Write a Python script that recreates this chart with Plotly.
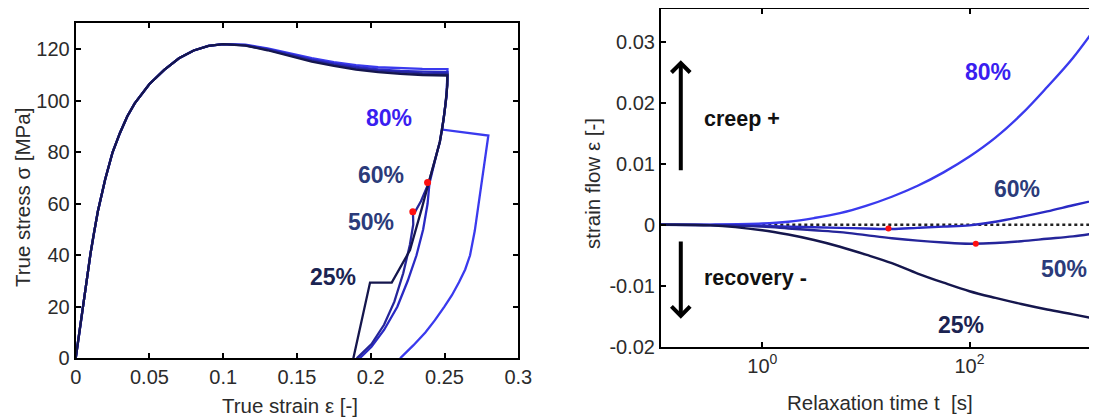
import math
import plotly.graph_objects as go

# ---------------- Left panel data: true stress vs true strain ----------------
LOAD_STRAIN = [0, 0.0025, 0.005, 0.0075, 0.01, 0.0125, 0.015, 0.02, 0.025, 0.03, 0.035, 0.04,
               0.05, 0.06, 0.07, 0.08, 0.09, 0.1, 0.115, 0.13, 0.145, 0.16, 0.175, 0.19,
               0.205, 0.22, 0.235, 0.252]
LOAD_BASE = [0, 10.5, 21, 31, 40.5, 49, 57, 69.5, 80, 87.5, 94, 99,
             106.5, 112, 116.5, 119.5, 121.3, 122]
LOAD_25_TAIL = [121.4, 119.6, 117.3, 115.2, 113.5, 112.1, 111.1, 110.4, 110.0, 109.8]
LOAD_50_TAIL = [121.5, 119.8, 117.6, 115.6, 113.9, 112.6, 111.6, 111.0, 110.6, 110.4]
LOAD_60_TAIL = [121.6, 120.0, 117.9, 116.0, 114.4, 113.1, 112.2, 111.6, 111.3, 111.1]
LOAD_80_TAIL = [121.8, 120.3, 118.3, 116.5, 115.0, 113.8, 113.0, 112.6, 112.4, 112.3]

# shared top of the unloading branch
UNLOAD_TOP_STRAIN = [0.2519, 0.2514, 0.2505, 0.2494, 0.2484]
UNLOAD_TOP_STRESS = [106, 102, 98, 93, 88.8]

# path after the shared top, per hold level
PATH_80_STRAIN = [0.2797, 0.2762, 0.2731, 0.2705, 0.2673, 0.2640, 0.2598, 0.2550, 0.2498, 0.2435, 0.2370, 0.2288, 0.2199]
PATH_80_STRESS = [86.5, 72, 60, 49.5, 40, 34.5, 29.5, 24.5, 20, 14.8, 10, 5, 0]
PATH_60_STRAIN = [0.2468, 0.2445, 0.2418, 0.2395, 0.2398, 0.2385, 0.2355, 0.2310, 0.2250, 0.2180, 0.2090, 0.2005, 0.1925]
PATH_60_STRESS = [84, 79, 73, 68.3, 68, 60, 50, 40, 30, 20, 11, 4.5, 0]
PATH_50_STRAIN = [0.2468, 0.2445, 0.2418, 0.2392, 0.2340, 0.2300, 0.2286, 0.2288, 0.2265, 0.2220, 0.2160, 0.2090, 0.2005, 0.1905]
PATH_50_STRESS = [84, 79, 73, 68, 61, 56.9, 56.9, 52, 44, 33, 22, 13, 5.5, 0]
PATH_25_STRAIN = [0.2468, 0.2445, 0.2418, 0.2392, 0.2345, 0.2305, 0.2266, 0.2142, 0.1995, 0.1882]
PATH_25_STRESS = [84, 79, 73, 68, 58, 50, 42, 29.4, 29.4, 0]

HOLD_DOT_STRAIN = [0.2385, 0.2285]
HOLD_DOT_STRESS = [68.3, 56.9]

# ---------------- Right panel data: strain flow vs relaxation time ----------------
TIME_S = [0.1, 0.316, 1, 1.78, 3.16, 5.62, 10, 17.8, 31.6, 56.2, 100, 178, 316, 562, 1000, 2030]
FLOW_80 = [0, 0.00003, 0.0002, 0.0005, 0.0011, 0.0019, 0.0031, 0.0046, 0.0064, 0.0086,
           0.0112, 0.0143, 0.0181, 0.0226, 0.0274, 0.0345]
FLOW_60 = [0, -0.00003, -0.0002, -0.0003, -0.0004, -0.0005, -0.0006, -0.0007, -0.0005, -0.0003,
           -0.0001, 0.0005, 0.0013, 0.0022, 0.0032, 0.0044]
FLOW_50 = [0, -0.00005, -0.0003, -0.0006, -0.0009, -0.0012, -0.0017, -0.0022, -0.0026, -0.0029,
           -0.0031, -0.0030, -0.0027, -0.0023, -0.0019, -0.0012]
FLOW_25 = [0, -0.0001, -0.0009, -0.0016, -0.0025, -0.0036, -0.0049, -0.0063, -0.0080, -0.0095,
           -0.0109, -0.0120, -0.0130, -0.0139, -0.0147, -0.0157]
ZERO_T = [1, 2030]
ZERO_F = [0, 0]
DOT_T = [16.5, 115]
DOT_F = [-0.0006, -0.0031]

LEVELS = ["25%", "50%", "60%", "80%"]
LEFT_LABEL_POS = {"80%": (0.2124, 93.2), "60%": (0.2067, 71.2), "50%": (0.2002, 53.1), "25%": (0.1747, 31.7)}
RIGHT_LABEL_POS = {"80%": (150, 0.0250), "60%": (286, 0.0059), "50%": (810, -0.0072), "25%": (82, -0.0165)}

LINE_COL = {"25%": "#15164d", "50%": "#25259a", "60%": "#2a2ac4", "80%": "#3a3aee"}
LABEL_COL = {"25%": "#1b2452", "50%": "#2b3b7a", "60%": "#2b3b7a", "80%": "#3a1ef0"}

FONT = "Liberation Sans, Arial, sans-serif"
TICK_COL = "#2b2b2b"

# page layout helpers (the HTML body adds an 8 px margin around the figure)
W, H, BODY = 1097, 417, 8


def px_x(p):
    return (p - BODY) / W


def px_y(p):
    return 1 - (p - BODY) / H


fig = go.Figure()

tails = {"25%": LOAD_25_TAIL, "50%": LOAD_50_TAIL, "60%": LOAD_60_TAIL, "80%": LOAD_80_TAIL}
paths = {"25%": (PATH_25_STRAIN, PATH_25_STRESS), "50%": (PATH_50_STRAIN, PATH_50_STRESS),
         "60%": (PATH_60_STRAIN, PATH_60_STRESS), "80%": (PATH_80_STRAIN, PATH_80_STRESS)}

for lvl in ["80%", "60%", "50%", "25%"]:
    xs = LOAD_STRAIN + UNLOAD_TOP_STRAIN + paths[lvl][0]
    ys = LOAD_BASE + tails[lvl] + UNLOAD_TOP_STRESS + paths[lvl][1]
    fig.add_trace(go.Scatter(x=xs, y=ys, mode="lines", xaxis="x", yaxis="y",
                             line=dict(color=LINE_COL[lvl], width=2.3), showlegend=False,
                             hoverinfo="skip"))

fig.add_trace(go.Scatter(x=HOLD_DOT_STRAIN, y=HOLD_DOT_STRESS, mode="markers", xaxis="x", yaxis="y",
                         marker=dict(color="#ff1010", size=7), showlegend=False))

fig.add_trace(go.Scatter(x=ZERO_T, y=ZERO_F, mode="lines", xaxis="x2", yaxis="y2",
                         line=dict(color="#222222", width=2.5, dash="dot"), showlegend=False))
flows = {"25%": FLOW_25, "50%": FLOW_50, "60%": FLOW_60, "80%": FLOW_80}
for lvl in ["80%", "60%", "50%", "25%"]:
    fig.add_trace(go.Scatter(x=TIME_S, y=flows[lvl], mode="lines", xaxis="x2", yaxis="y2",
                             line=dict(color=LINE_COL[lvl], width=2.4, shape="spline"),
                             showlegend=False))
fig.add_trace(go.Scatter(x=DOT_T, y=DOT_F, mode="markers", xaxis="x2", yaxis="y2",
                         marker=dict(color="#ff1010", size=6), showlegend=False))

annotations = []
for lvl in LEVELS:
    x, y = LEFT_LABEL_POS[lvl]
    annotations.append(dict(x=x, y=y, xref="x", yref="y", text="<b>%s</b>" % lvl, showarrow=False,
                            font=dict(family=FONT, size=23, color=LABEL_COL[lvl])))
    x, y = RIGHT_LABEL_POS[lvl]
    annotations.append(dict(x=math.log10(x), y=y, xref="x2", yref="y2", text="<b>%s</b>" % lvl,
                            showarrow=False, font=dict(family=FONT, size=23, color=LABEL_COL[lvl])))

annotations += [
    dict(x=-0.586, y=0.0174, xref="x2", yref="y2", text="<b>creep +</b>", showarrow=False,
         xanchor="left", font=dict(family=FONT, size=21.5, color="#111111")),
    dict(x=-0.586, y=-0.0087, xref="x2", yref="y2", text="<b>recovery -</b>", showarrow=False,
         xanchor="left", font=dict(family=FONT, size=21.5, color="#111111")),
    dict(x=-0.787, y=0.0270, xref="x2", yref="y2", ax=-0.787, ay=0.0087, axref="x2", ayref="y2",
         showarrow=True, arrowhead=4, arrowsize=0.9, arrowwidth=4, arrowcolor="#000000", text=""),
    dict(x=-0.787, y=-0.0154, xref="x2", yref="y2", ax=-0.787, ay=-0.0025, axref="x2", ayref="y2",
         showarrow=True, arrowhead=4, arrowsize=0.9, arrowwidth=4, arrowcolor="#000000", text=""),
]

title_font = dict(family=FONT, size=20.5, color=TICK_COL)
for (tx, ty, txt, ang) in [(290, 405, "True strain \u03b5 [-]", 0),
                           (22, 198, "True stress \u03c3 [MPa]", -90),
                           (880, 402, "Relaxation time t  [s]", 0),
                           (592, 184, "strain flow \u03b5 [-]", -90)]:
    annotations.append(dict(x=px_x(tx), y=px_y(ty), xref="paper", yref="paper", text=txt,
                            showarrow=False, textangle=ang, xanchor="center", yanchor="middle",
                            font=title_font))

axis_common = dict(showgrid=False, zeroline=False, showline=True, linecolor="#000000", linewidth=2,
                   ticks="inside", ticklen=5, tickwidth=1.5, tickcolor="#000000",
                   tickfont=dict(family=FONT, size=20, color=TICK_COL), automargin=False)

fig.update_layout(
    width=W, height=H,
    margin=dict(l=0, r=0, t=0, b=0),
    paper_bgcolor="white", plot_bgcolor="white",
    xaxis=dict(domain=[px_x(75.7), px_x(518.3)], range=[0, 0.3],
               tickvals=[0, 0.05, 0.1, 0.15, 0.2, 0.25, 0.3],
               ticktext=["0", "0.05", "0.1", "0.15", "0.2", "0.25", "0.3"], mirror="ticks",
               anchor="y", **axis_common),
    yaxis=dict(domain=[px_y(358.3), px_y(22.7)], range=[0, 130.3],
               tickvals=[0, 20, 40, 60, 80, 100, 120], mirror="ticks", anchor="x", **axis_common),
    xaxis2=dict(domain=[px_x(661), 1], type="log", range=[-0.978, 3.308], tickvals=[1, 100],
                ticktext=["10<sup>0</sup>", "10<sup>2</sup>"], mirror="ticks", anchor="y2", **axis_common),
    yaxis2=dict(domain=[px_y(346.7), px_y(9)], range=[-0.02, 0.0354],
                tickvals=[-0.02, -0.01, 0, 0.01, 0.02, 0.03],
                ticktext=["-0.02", "-0.01", "0", "0.01", "0.02", "0.03"], mirror="ticks",
                anchor="x2", **axis_common),
    annotations=annotations,
    showlegend=False,
)

fig.write_html("out.html")
